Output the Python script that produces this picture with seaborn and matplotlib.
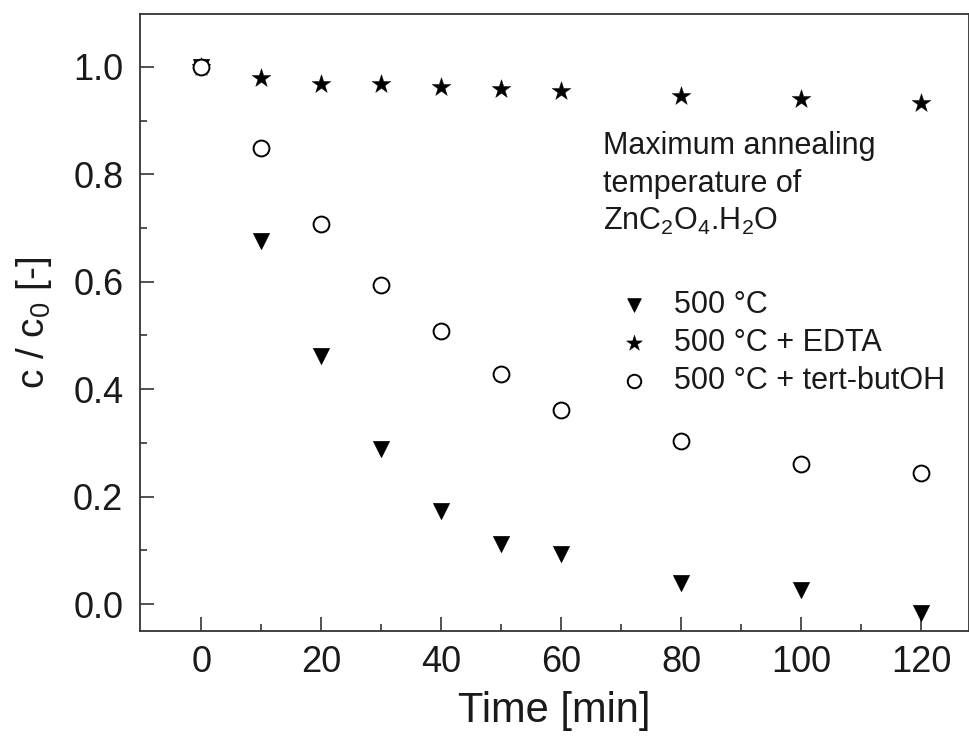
import matplotlib
matplotlib.use("Agg")
import matplotlib.pyplot as plt
from matplotlib.ticker import FixedLocator
import seaborn as sns
import pandas as pd

sns.set_theme(style="ticks")
plt.rcParams["font.family"] = ["Liberation Sans", "DejaVu Sans"]
plt.rcParams["mathtext.fontset"] = "custom"
plt.rcParams["mathtext.rm"] = "Liberation Sans"
plt.rcParams["mathtext.it"] = "Liberation Sans"

# Degradation kinetics, c/c0 versus irradiation time
time_min = [0, 10, 20, 30, 40, 50, 60, 80, 100, 120]
c_500 = [1.0, 0.676, 0.462, 0.288, 0.173, 0.112, 0.093, 0.039, 0.026, -0.017]
c_500_edta = [1.0, 0.979, 0.968, 0.968, 0.962, 0.958, 0.955, 0.945, 0.940, 0.932]
c_500_tbuoh = [1.0, 0.849, 0.707, 0.594, 0.508, 0.428, 0.361, 0.303, 0.261, 0.244]

labels = ["500 °C", "500 °C + EDTA", "500 °C + tert-butOH"]
x_ticks = [0, 20, 40, 60, 80, 100, 120]
x_minor = [10, 30, 50, 70, 90, 110]
y_ticks = [0.0, 0.2, 0.4, 0.6, 0.8, 1.0]
y_minor = [0.1, 0.3, 0.5, 0.7, 0.9]

df = pd.DataFrame({
    "time": time_min * 3,
    "c": c_500 + c_500_edta + c_500_tbuoh,
    "sample": [labels[0]] * len(time_min) + [labels[1]] * len(time_min)
              + [labels[2]] * len(time_min),
})

fig = plt.figure(figsize=(9.7, 7.45), dpi=100)
ax = fig.add_axes([0.1443, 0.153, 0.8547, 0.828])

styles = {
    labels[0]: dict(marker="v", s=135, color="black", edgecolor="black", linewidth=0.5),
    labels[1]: dict(marker="*", s=200, color="black", edgecolor="black", linewidth=0.3),
    labels[2]: dict(marker="o", s=130, color="white", edgecolor="black", linewidth=1.4),
}
for lab in labels:
    sub = df[df["sample"] == lab]
    sns.scatterplot(data=sub, x="time", y="c", ax=ax, label=lab, zorder=3, **styles[lab])

ax.set_xlim(-10.2, 128.0)
ax.set_ylim(-0.05, 1.098)
ax.set_xticks(x_ticks)
ax.set_yticks(y_ticks)
ax.set_xticklabels([str(t) for t in x_ticks])
ax.set_yticklabels([f"{v:.1f}" for v in y_ticks])
ax.xaxis.set_minor_locator(FixedLocator(x_minor))
ax.yaxis.set_minor_locator(FixedLocator(y_minor))
ax.tick_params(axis="both", which="major", direction="in", length=10, width=1.2,
               labelsize=26, color="#333333", labelcolor="#1a1a1a",
               bottom=True, left=True, top=False, right=False)
ax.tick_params(axis="x", which="major", pad=10)
ax.tick_params(axis="y", which="major", pad=12)
ax.tick_params(axis="both", which="minor", direction="in", length=5, width=1.2,
               color="#333333", bottom=True, left=True, top=False, right=False)
for sp in ax.spines.values():
    sp.set_visible(True)
    sp.set_color("#333333")
    sp.set_linewidth(1.3)

ax.set_xlabel("Time [min]", fontsize=30, color="#1a1a1a", labelpad=8)
ax.set_ylabel("c / c$_0$ [-]", fontsize=28, color="#1a1a1a", labelpad=14)

ax.text(0.559, 0.81, "Maximum annealing\ntemperature of\nZnC$_2$O$_4$.H$_2$O",
        transform=ax.transAxes, fontsize=22, color="#1a1a1a", va="top", ha="left",
        linespacing=1.32)

leg = ax.legend(loc="upper left", bbox_to_anchor=(0.574, 0.553), frameon=False,
                fontsize=22, handletextpad=0.7, labelspacing=0.27,
                borderaxespad=0, borderpad=0, handlelength=1.2, markerscale=0.85)
for t in leg.get_texts():
    t.set_color("#1a1a1a")

fig.savefig("out.png", dpi=100)
